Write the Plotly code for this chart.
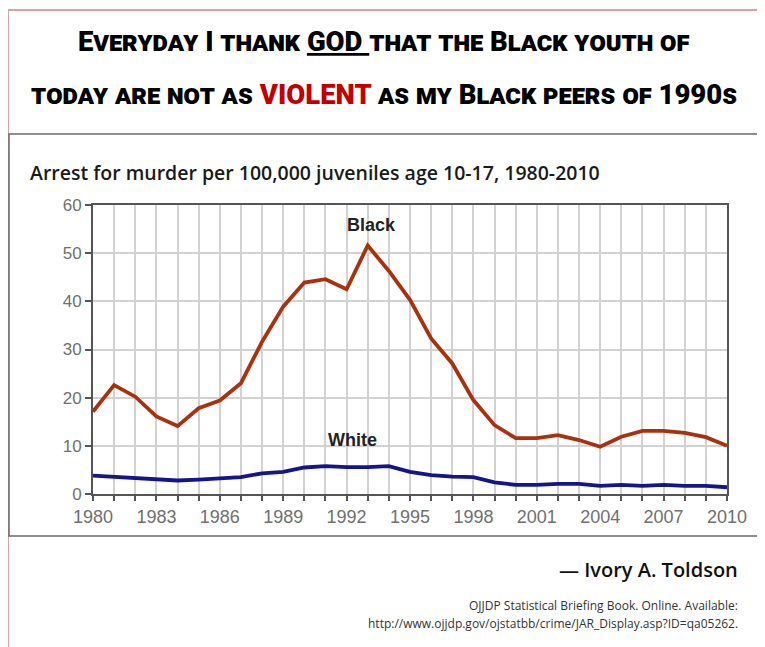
import plotly.graph_objects as go

years = list(range(1980, 2011))
black = [17.1, 22.6, 20.2, 16.1, 14.1, 17.8, 19.4, 23.0, 31.6, 38.9, 43.9, 44.6, 42.5, 51.6, 46.3,
         40.3, 32.3, 27.1, 19.5, 14.3, 11.6, 11.6, 12.2, 11.2, 9.8, 11.9, 13.1, 13.1, 12.7, 11.8, 10.0]
white = [3.8, 3.5, 3.3, 3.0, 2.8, 3.0, 3.3, 3.5, 4.3, 4.6, 5.5, 5.8, 5.6, 5.6, 5.8,
         4.6, 3.9, 3.6, 3.5, 2.4, 1.9, 1.9, 2.1, 2.1, 1.7, 1.9, 1.7, 1.9, 1.7, 1.7, 1.4]
xtick_vals = list(range(1980, 2011, 3))
ytick_vals = [0, 10, 20, 30, 40, 50, 60]

OFF = 8  # page body margin
W, H = 765 - OFF, 647 - OFF
# plot area in window pixels
X0, X1, Y0, Y1 = 93, 727, 205, 494
L, R, T = X0 - OFF, (765 - OFF) - (X1 - OFF), Y0 - OFF
B = H - (Y1 - OFF)
PW, PH = X1 - X0, Y1 - Y0

def px(x):
    return (x - X0) / PW

def py(y):
    return (Y1 - y) / PH

fig = go.Figure()
fig.add_trace(go.Scatter(x=years, y=black, mode="lines", name="Black",
                         line=dict(color="#a8320f", width=3.8)))
fig.add_trace(go.Scatter(x=years, y=white, mode="lines", name="White",
                         line=dict(color="#14148c", width=3.8)))

title_font = dict(family="Roboto, sans-serif",
                  size=27.5, color="#000000", weight=900, variant="small-caps")

annotations = [
    dict(text="Everyday I thank <span style=\"text-decoration:underline\">GOD </span>that the Black youth of",
         x=px(383), y=py(41), xref="paper", yref="paper", showarrow=False,
         xanchor="center", yanchor="middle", font=title_font),
    dict(text="today are not as <span style=\"color:#c00000\">VIOLENT</span> as my Black peers of 1990s",
         x=px(384), y=py(95), xref="paper", yref="paper", showarrow=False,
         xanchor="center", yanchor="middle", font=title_font),
    dict(text="Arrest for murder per 100,000 juveniles age 10-17, 1980-2010",
         x=px(28), y=py(172), xref="paper", yref="paper", showarrow=False,
         xanchor="left", yanchor="middle",
         font=dict(family="Open Sans, sans-serif", size=19.5, color="#1a1a1a", weight=600)),
    dict(text="Black", x=1993.2, y=55.8, xref="x", yref="y", showarrow=False,
         font=dict(family="Liberation Sans, Arial, sans-serif", size=18, color="#222222", weight="bold")),
    dict(text="White", x=1992.3, y=11.2, xref="x", yref="y", showarrow=False,
         font=dict(family="Liberation Sans, Arial, sans-serif", size=18, color="#222222", weight="bold")),
    dict(text="— Ivory A. Toldson", x=px(740), y=py(569), xref="paper", yref="paper",
         showarrow=False, xanchor="right", yanchor="middle",
         font=dict(family="Open Sans, sans-serif", size=20, color="#111111", weight=600)),
    dict(text="OJJDP Statistical Briefing Book. Online. Available:", x=px(740), y=py(605),
         xref="paper", yref="paper", showarrow=False, xanchor="right", yanchor="middle",
         font=dict(family="Open Sans, sans-serif", size=12, color="#333333")),
    dict(text="http://www.ojjdp.gov/ojstatbb/crime/JAR_Display.asp?ID=qa05262.", x=px(740), y=py(623),
         xref="paper", yref="paper", showarrow=False, xanchor="right", yanchor="middle",
         font=dict(family="Open Sans, sans-serif", size=12, color="#333333")),
]

shapes = [
    dict(type="rect", xref="paper", yref="paper", x0=px(8), x1=px(760), y0=py(680), y1=py(10),
         line=dict(color="#d4a3a3", width=2), fillcolor="rgba(0,0,0,0)", layer="below"),
    dict(type="rect", xref="paper", yref="paper", x0=px(9), x1=px(759), y0=py(536), y1=py(134),
         line=dict(color="#6a6a6a", width=1.5), fillcolor="rgba(0,0,0,0)", layer="below"),
]

tickfont_x = dict(family="Liberation Sans, Arial, sans-serif", size=18, color="#707070")
tickfont_y = dict(family="Liberation Sans, Arial, sans-serif", size=17, color="#707070")

fig.update_layout(
    width=W, height=H,
    margin=dict(l=L, r=R, t=T, b=B, autoexpand=False),
    paper_bgcolor="white", plot_bgcolor="white",
    showlegend=False,
    annotations=annotations,
    shapes=shapes,
    xaxis=dict(range=[1980, 2010], tickvals=xtick_vals, ticktext=[str(v) for v in xtick_vals],
               showgrid=True, gridcolor="#d2d2d2", gridwidth=1.5,
               showline=True, linecolor="#555555", linewidth=2, mirror=True,
               ticks="outside", ticklen=5, tickcolor="#555555", tickwidth=1.5,
               minor=dict(dtick=1, tick0=1980, showgrid=True, gridcolor="#d2d2d2", gridwidth=1.5,
                          ticks="outside", ticklen=5, tickcolor="#555555", tickwidth=1.5),
               tickfont=tickfont_x,
               zeroline=False, fixedrange=True),
    yaxis=dict(range=[0, 60], tickvals=ytick_vals,
               showgrid=True, gridcolor="#d2d2d2", gridwidth=1.5,
               showline=True, linecolor="#555555", linewidth=2, mirror=True,
               ticks="outside", ticklen=6, tickcolor="#555555", tickwidth=1.5,
               tickfont=tickfont_y,
               zeroline=False, fixedrange=True),
)

fig.write_html("out.html")
